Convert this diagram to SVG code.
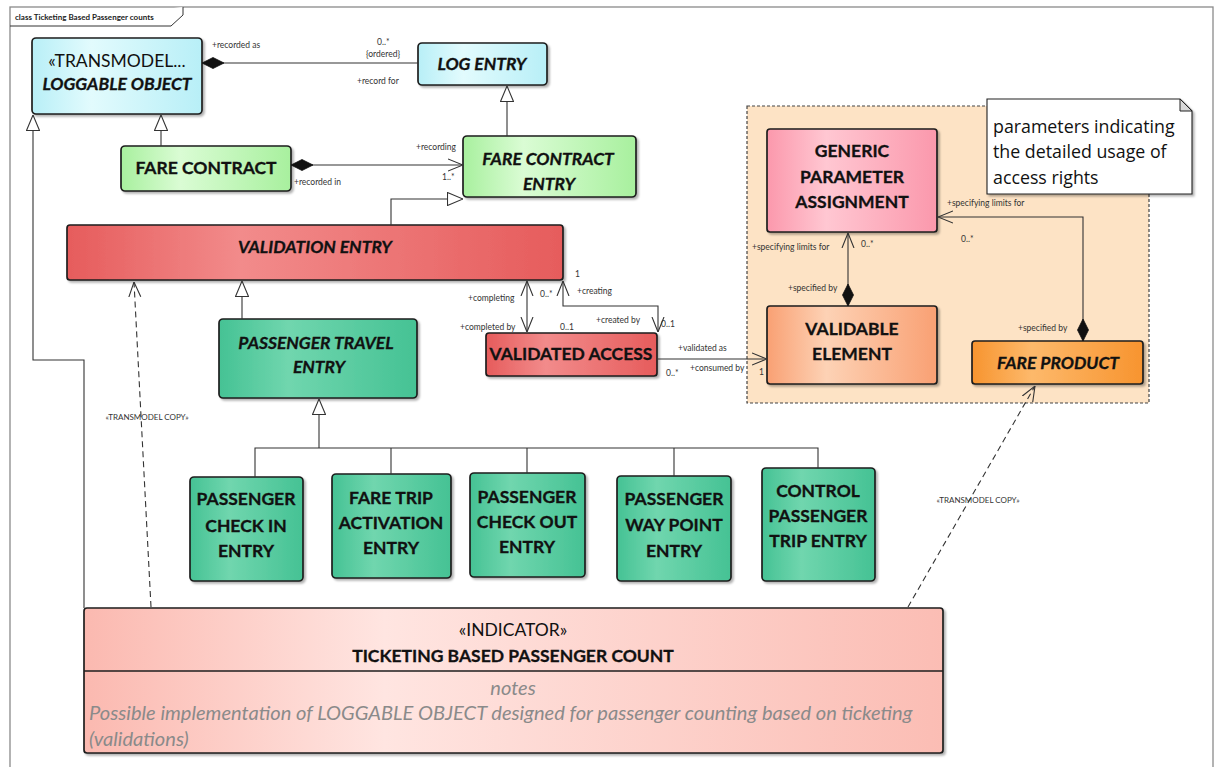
<svg xmlns="http://www.w3.org/2000/svg" width="1218" height="767" viewBox="0 0 1218 767">
  <style>
    .node { stroke: #1e1e1e; stroke-width: 1.7; filter: url(#shadow); }
    .name { font-family: Lato, "Noto Sans", sans-serif; font-weight: bold; font-size: 17.5px; fill: #111; stroke: #111; stroke-width: 0.3; text-anchor: middle; }
    .it { font-style: italic; }
    .reg { font-weight: normal; stroke: none; }
    .notes { font-family: Lato, "Noto Sans", sans-serif; font-size: 20.1px; font-style: italic; fill: #8a8a8a; }
    .lbl { font-family: Lato, "Noto Sans", sans-serif; font-size: 8.5px; fill: #333; }
    .stereo { font-family: Lato, "Noto Sans", sans-serif; font-size: 8px; fill: #333; text-anchor: middle; }
    .conn { fill: none; stroke: #333; stroke-width: 1.1; }
    .dash { stroke-dasharray: 6 4; }
  </style>
  <defs>
    <filter id="shadow" x="-10%" y="-10%" width="130%" height="140%">
      <feDropShadow dx="2" dy="2" stdDeviation="1.2" flood-color="#000" flood-opacity="0.3"/>
    </filter>
    <linearGradient id="gCyan"><stop offset="0" stop-color="#b8eff7"/><stop offset="0.35" stop-color="#e2fbfd"/><stop offset="1" stop-color="#b8eff7"/></linearGradient>
    <linearGradient id="gGreen"><stop offset="0" stop-color="#a8f09e"/><stop offset="0.35" stop-color="#dafcd4"/><stop offset="1" stop-color="#a8f09e"/></linearGradient>
    <linearGradient id="gRed"><stop offset="0" stop-color="#e65c5c"/><stop offset="0.35" stop-color="#f28b8b"/><stop offset="1" stop-color="#e65c5c"/></linearGradient>
    <linearGradient id="gTeal"><stop offset="0" stop-color="#45c294"/><stop offset="0.35" stop-color="#70d6ae"/><stop offset="1" stop-color="#45c294"/></linearGradient>
    <linearGradient id="gPink"><stop offset="0" stop-color="#fb98ac"/><stop offset="0.35" stop-color="#ffc7d2"/><stop offset="1" stop-color="#fb98ac"/></linearGradient>
    <linearGradient id="gSalmon"><stop offset="0" stop-color="#f9a073"/><stop offset="0.35" stop-color="#fdd2b5"/><stop offset="1" stop-color="#f9a073"/></linearGradient>
    <linearGradient id="gOrange"><stop offset="0" stop-color="#f7942f"/><stop offset="0.35" stop-color="#fdb96b"/><stop offset="1" stop-color="#f7942f"/></linearGradient>
    <linearGradient id="gInd"><stop offset="0" stop-color="#fbb9b0"/><stop offset="0.35" stop-color="#ffe5e1"/><stop offset="1" stop-color="#fbbdb4"/></linearGradient>
    <!-- UML end decorations -->
    <marker id="gen" viewBox="0 0 16 14" refX="16" refY="7" markerWidth="16" markerHeight="14" markerUnits="userSpaceOnUse" orient="auto">
      <path d="M0.5,0.5 L16,7 L0.5,13.5 Z" fill="#fff" stroke="#333" stroke-width="1.1"/>
    </marker>
    <marker id="open" viewBox="0 0 15 14" refX="15" refY="7" markerWidth="15" markerHeight="14" markerUnits="userSpaceOnUse" orient="auto-start-reverse">
      <path d="M0,1 L15,7 L0,13" fill="none" stroke="#333" stroke-width="1.1"/>
    </marker>
    <marker id="diamond" viewBox="0 0 22 12" refX="0" refY="6" markerWidth="22" markerHeight="12" markerUnits="userSpaceOnUse" orient="auto">
      <path d="M0,6 L11,0.5 L22,6 L11,11.5 Z" fill="#111" stroke="#111" stroke-width="0.8"/>
    </marker>
  </defs>

  <rect width="1218" height="767" fill="#fff"/>

  <!-- diagram frame -->
  <g id="frame">
    <rect x="10" y="7" width="1203" height="790" fill="none" stroke="#8a8a8a" stroke-width="1.3"/>
    <path d="M10,26 H171 L183,15 V7" fill="#fff" stroke="#333" stroke-width="1"/>
    <text x="15" y="20" font-family="Lato, 'Noto Sans', sans-serif" font-size="8px" font-weight="bold" fill="#222">class Ticketing Based Passenger counts</text>
  </g>

  <!-- package holding the access-right parameters -->
  <g id="package">
    <rect x="747" y="106" width="402" height="297" fill="#fde3c5" stroke="#444" stroke-width="1.2" stroke-dasharray="3 2"/>
  </g>

  <g id="note">
    <path d="M987,99 H1180 L1192,111 V194 H987 Z" fill="#fff" stroke="#222" stroke-width="1.1" filter="url(#shadow)"/>
    <path d="M1180,99 V111 H1192 Z" fill="#d8d8d8" stroke="#222" stroke-width="1"/>
    <text font-family="'Open Sans', 'Noto Sans', sans-serif" font-size="17.8px" fill="#111">
      <tspan x="993" y="133">parameters indicating</tspan>
      <tspan x="993" y="158">the detailed usage of</tspan>
      <tspan x="993" y="184">access rights</tspan>
    </text>
  </g>

  <g id="loggable-object">
    <rect class="node" x="32" y="38" width="170" height="76" rx="4" fill="url(#gCyan)"/>
    <text class="name reg" x="117" y="67">«TRANSMODEL...</text>
    <text class="name it" x="117" y="90" font-size="18.3px">LOGGABLE OBJECT</text>
  </g>

  <g id="log-entry">
    <rect class="node" x="418" y="43" width="129" height="42" rx="4" fill="url(#gCyan)"/>
    <text class="name it" x="482" y="70" font-size="18px">LOG ENTRY</text>
  </g>

  <g id="fare-contract">
    <rect class="node" x="121" y="146" width="170" height="45" rx="4" fill="url(#gGreen)"/>
    <text class="name" x="206" y="174">FARE CONTRACT</text>
  </g>

  <g id="fare-contract-entry">
    <rect class="node" x="463" y="136" width="173" height="61" rx="4" fill="url(#gGreen)"/>
    <text class="name it" x="548" y="165" font-size="18px">FARE CONTRACT</text>
    <text class="name it" x="549" y="190" font-size="18px">ENTRY</text>
  </g>

  <g id="validation-entry">
    <rect class="node" x="67" y="225" width="496" height="55" rx="3" fill="url(#gRed)"/>
    <text class="name it" x="315" y="253" font-size="18px">VALIDATION ENTRY</text>
  </g>

  <g id="passenger-travel-entry">
    <rect class="node" x="219" y="319" width="198" height="79" rx="4" fill="url(#gTeal)"/>
    <text class="name it" x="316" y="349" font-size="18px">PASSENGER TRAVEL</text>
    <text class="name it" x="319" y="373" font-size="18px">ENTRY</text>
  </g>

  <g id="validated-access">
    <rect class="node" x="486" y="333" width="171" height="43" rx="3" fill="url(#gRed)"/>
    <text class="name" x="571" y="360">VALIDATED ACCESS</text>
  </g>

  <g id="generic-parameter-assignment">
    <rect class="node" x="767" y="129" width="170" height="103" rx="3" fill="url(#gPink)"/>
    <text class="name" x="852" y="157">GENERIC</text>
    <text class="name" x="852" y="183">PARAMETER</text>
    <text class="name" x="852" y="208">ASSIGNMENT</text>
  </g>

  <g id="validable-element">
    <rect class="node" x="767" y="306" width="170" height="78" rx="3" fill="url(#gSalmon)"/>
    <text class="name" x="852" y="335">VALIDABLE</text>
    <text class="name" x="852" y="360">ELEMENT</text>
  </g>

  <g id="fare-product">
    <rect class="node" x="972" y="341" width="171" height="43" rx="3" fill="url(#gOrange)"/>
    <text class="name it" x="1058" y="369" font-size="18px">FARE PRODUCT</text>
  </g>

  <g id="passenger-check-in-entry">
    <rect class="node" x="190" y="477" width="113" height="104" rx="4" fill="url(#gTeal)"/>
    <text class="name" x="246" y="505">PASSENGER</text>
    <text class="name" x="246" y="532">CHECK IN</text>
    <text class="name" x="246" y="557">ENTRY</text>
  </g>

  <g id="fare-trip-activation-entry">
    <rect class="node" x="332" y="474" width="119" height="104" rx="4" fill="url(#gTeal)"/>
    <text class="name" x="391" y="504">FARE TRIP</text>
    <text class="name" x="391" y="529">ACTIVATION</text>
    <text class="name" x="391" y="554">ENTRY</text>
  </g>

  <g id="passenger-check-out-entry">
    <rect class="node" x="470" y="473" width="115" height="104" rx="4" fill="url(#gTeal)"/>
    <text class="name" x="527" y="503">PASSENGER</text>
    <text class="name" x="527" y="528">CHECK OUT</text>
    <text class="name" x="527" y="553">ENTRY</text>
  </g>

  <g id="passenger-way-point-entry">
    <rect class="node" x="617" y="476" width="114" height="105" rx="4" fill="url(#gTeal)"/>
    <text class="name" x="674" y="505">PASSENGER</text>
    <text class="name" x="674" y="531">WAY POINT</text>
    <text class="name" x="674" y="557">ENTRY</text>
  </g>

  <g id="control-passenger-trip-entry">
    <rect class="node" x="762" y="468" width="113" height="113" rx="4" fill="url(#gTeal)"/>
    <text class="name" x="818" y="497">CONTROL</text>
    <text class="name" x="818" y="522">PASSENGER</text>
    <text class="name" x="818" y="547">TRIP ENTRY</text>
  </g>

  <g id="ticketing-based-passenger-count">
    <rect class="node" x="84" y="608" width="859" height="145" rx="3" fill="url(#gInd)"/>
    <line x1="84" y1="671" x2="943" y2="671" stroke="#1e1e1e" stroke-width="1.5"/>
    <text class="name reg" x="513" y="636" font-size="17.5px">«INDICATOR»</text>
    <text class="name" x="513" y="662" font-size="16.5px">TICKETING BASED PASSENGER COUNT</text>
    <text class="notes" x="513" y="695" text-anchor="middle" font-size="18px">notes</text>
    <text class="notes" x="89" y="720">Possible implementation of LOGGABLE OBJECT designed for passenger counting based on ticketing</text>
    <text class="notes" x="89" y="746">(validations)</text>
  </g>

  <!-- connectors -->
  <g id="connectors">
    <!-- generalisations -->
    <path class="conn" d="M507,136 V86" marker-end="url(#gen)"/>
    <path class="conn" d="M161,146 V115" marker-end="url(#gen)"/>
    <path class="conn" d="M84,608 V360 H33 V115" marker-end="url(#gen)"/>
    <path class="conn" d="M391,225 V199 H463" marker-end="url(#gen)"/>
    <path class="conn" d="M242,319 V281" marker-end="url(#gen)"/>
    <path class="conn" d="M255,477 V448 H818 V468 M391,474 V448 M527,473 V448 M674,476 V448"/>
    <path class="conn" d="M319,448 V399" marker-end="url(#gen)"/>

    <!-- associations -->
    <path class="conn" d="M202,63 H418" marker-start="url(#diamond)"/>
    <path class="conn" d="M291,165 H463" marker-start="url(#diamond)" marker-end="url(#open)"/>
    <path class="conn" d="M527,281 V332" marker-start="url(#open)" marker-end="url(#open)"/>
    <path class="conn" d="M563,281 V306 H658 V332" marker-start="url(#open)" marker-end="url(#open)"/>
    <path class="conn" d="M657,359 H767" marker-end="url(#open)"/>
    <path class="conn" d="M848,306 V233" marker-start="url(#diamond)" marker-end="url(#open)"/>
    <path class="conn" d="M1083,341 V217 H938" marker-start="url(#diamond)" marker-end="url(#open)"/>

    <!-- dependencies -->
    <path class="conn dash" d="M151,607 L134,282" marker-end="url(#open)"/>
    <path class="conn dash" d="M908,607 L1035,386" marker-end="url(#open)"/>

    <!-- role names and multiplicities -->
    <text class="lbl" x="212" y="48">+recorded as</text>
    <text class="lbl" x="377" y="45">0..*</text>
    <text class="lbl" x="366" y="57">{ordered}</text>
    <text class="lbl" x="357" y="84">+record for</text>
    <text class="lbl" x="416" y="150">+recording</text>
    <text class="lbl" x="294" y="185">+recorded in</text>
    <text class="lbl" x="442" y="180">1..*</text>
    <text class="lbl" x="468" y="301">+completing</text>
    <text class="lbl" x="540" y="297">0..*</text>
    <text class="lbl" x="575" y="277">1</text>
    <text class="lbl" x="577" y="294">+creating</text>
    <text class="lbl" x="460" y="330">+completed by</text>
    <text class="lbl" x="560" y="330">0..1</text>
    <text class="lbl" x="596" y="323">+created by</text>
    <text class="lbl" x="661" y="327">0..1</text>
    <text class="lbl" x="678" y="351">+validated as</text>
    <text class="lbl" x="666" y="376">0..*</text>
    <text class="lbl" x="690" y="371">+consumed by</text>
    <text class="lbl" x="759" y="375">1</text>
    <text class="lbl" x="752" y="250">+specifying limits for</text>
    <text class="lbl" x="861" y="247">0..*</text>
    <text class="lbl" x="788" y="291">+specified by</text>
    <text class="lbl" x="947" y="206">+specifying limits for</text>
    <text class="lbl" x="961" y="242">0..*</text>
    <text class="lbl" x="1018" y="331">+specified by</text>
    <text class="stereo" x="147" y="420">«TRANSMODEL COPY»</text>
    <text class="stereo" x="978" y="503">«TRANSMODEL COPY»</text>
  </g>
</svg>
